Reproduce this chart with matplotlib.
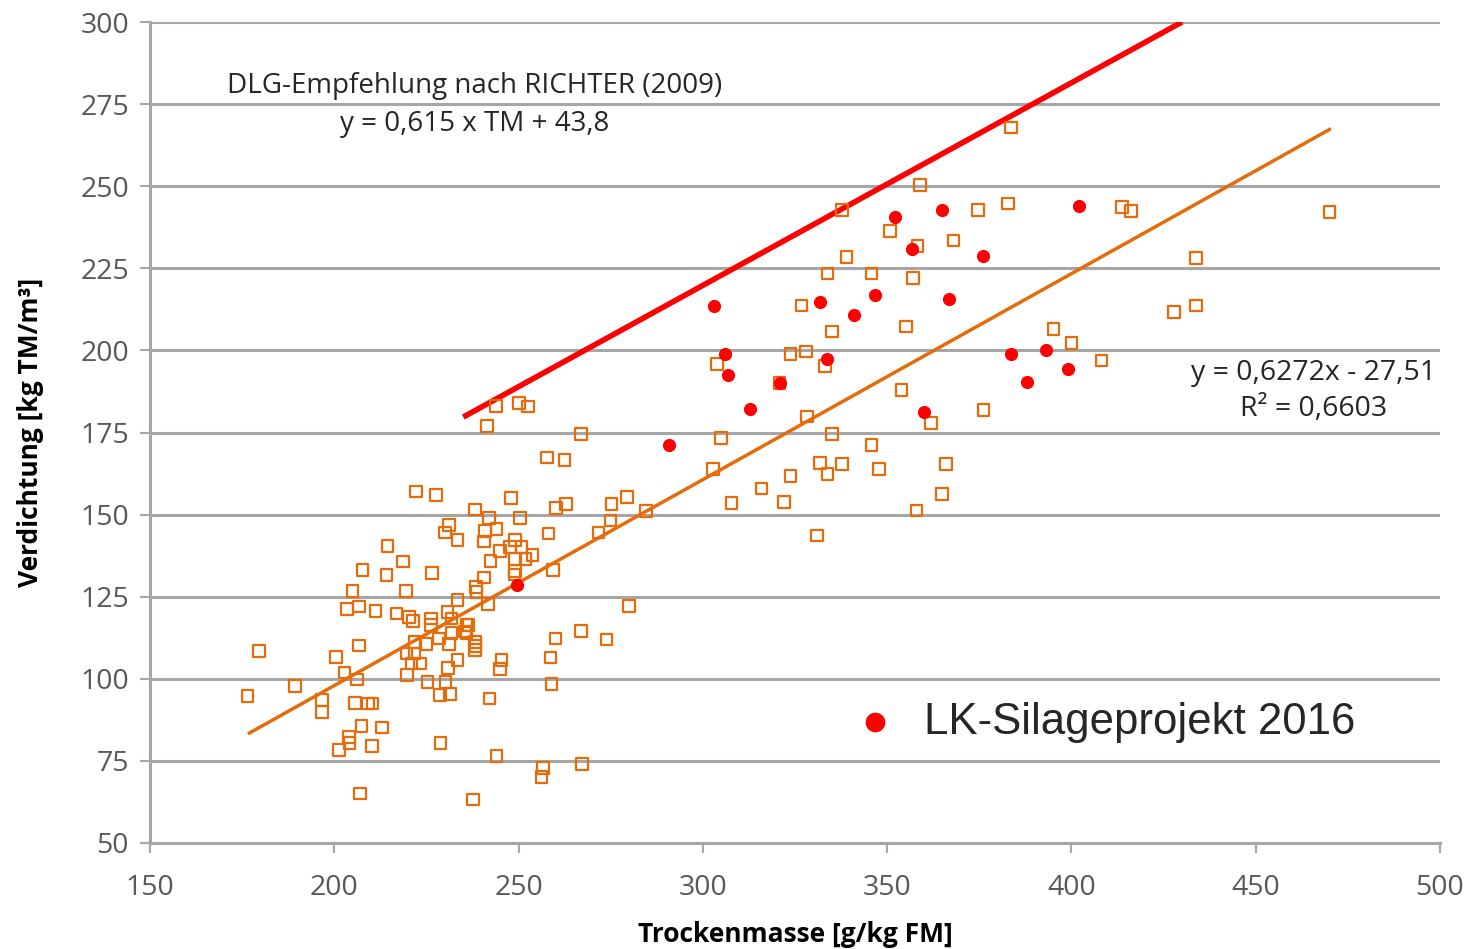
import numpy as np
import matplotlib
matplotlib.use("Agg")
import matplotlib.pyplot as plt

# ---- data: Trockenmasse [g/kg FM] / Verdichtung [kg TM/m3] ----
sq_x = [222.2, 227.6, 238.2, 231.2, 230.0, 233.4, 214.5, 218.7, 207.7, 214.2,
        226.6, 205.0, 219.5, 203.5, 206.8, 211.2, 216.9, 220.3, 221.4, 226.2,
        226.3, 230.7, 231.8, 233.4, 238.4, 238.6, 236.4, 235.5, 238.2, 238.2,
        231.8, 228.4, 225.0, 221.8, 219.6, 221.8, 221.0, 223.3, 219.8, 231.2,
        233.4, 230.9, 230.2, 225.3, 228.7, 231.4, 206.8, 200.4, 202.8, 206.1,
        179.6, 189.4, 176.5, 196.6, 196.7, 205.6, 209.2, 210.4, 207.4, 212.9,
        204.0, 204.1, 201.3, 210.3, 228.8, 207.0, 237.7,
        243.9, 250.1, 252.5, 241.5, 266.9, 257.8, 262.5, 247.9, 242.0, 250.4,
        260.1, 262.9, 275.2, 279.4, 284.5, 275.0, 271.7, 240.9, 244.0, 240.6,
        258.1, 249.0, 247.7, 250.8, 245.0, 249.0, 251.9, 253.8, 242.4, 249.0,
        248.9, 259.4, 240.6, 241.7, 279.9, 235.9, 235.9, 238.3, 245.4, 245.0,
        260.0, 266.9, 273.9, 258.7, 258.9, 242.1, 244.0, 256.7, 256.2, 267.3,
        358.9, 337.8, 374.7, 350.8, 358.2, 368.0, 339.0, 333.8, 345.8, 357.1,
        326.8, 335.0, 355.1, 323.8, 328.0, 303.9, 333.1, 320.8, 353.9, 376.1,
        361.9, 328.2, 335.0, 304.9, 345.8, 366.0, 331.8, 337.8, 333.8, 347.8,
        302.8, 323.8, 315.9, 364.9, 307.8, 322.1, 358.0, 330.9,
        382.8, 413.8, 416.1, 470.0, 433.8, 427.9, 433.8, 395.1, 400.0, 408.2,
        383.6]
sq_y = [157.0, 155.9, 151.6, 146.9, 144.5, 142.3, 140.5, 135.7, 133.1, 131.6,
        132.3, 126.7, 126.7, 121.2, 122.0, 120.6, 119.9, 118.9, 117.6, 118.4,
        116.4, 120.4, 118.4, 124.0, 128.0, 126.5, 116.4, 114.4, 111.3, 108.8,
        113.9, 112.3, 110.6, 111.3, 107.7, 107.7, 104.7, 104.7, 101.1, 110.6,
        105.7, 103.2, 99.1, 99.1, 95.0, 95.3, 110.1, 106.7, 101.9, 99.8,
        108.5, 97.9, 94.7, 93.5, 89.8, 92.7, 92.5, 92.5, 85.6, 85.2,
        82.2, 80.5, 78.3, 79.6, 80.5, 65.1, 63.3,
        183.1, 184.0, 182.9, 177.0, 174.6, 167.4, 166.7, 155.0, 148.9, 148.9,
        152.0, 153.2, 153.3, 155.3, 151.1, 148.2, 144.6, 145.0, 145.6, 141.8,
        144.3, 142.3, 140.2, 140.2, 138.9, 136.5, 136.4, 137.7, 135.9, 132.8,
        131.8, 133.1, 130.9, 122.8, 122.2, 116.4, 113.9, 109.9, 105.7, 102.9,
        112.3, 114.6, 112.0, 106.5, 98.4, 94.0, 76.4, 72.9, 70.1, 74.0,
        250.3, 242.7, 242.7, 236.3, 231.7, 233.5, 228.5, 223.4, 223.4, 222.1,
        213.7, 205.8, 207.3, 199.0, 199.7, 195.9, 195.3, 190.1, 188.0, 181.9,
        177.9, 179.9, 174.6, 173.3, 171.2, 165.4, 165.7, 165.4, 162.4, 163.9,
        163.9, 161.8, 158.0, 156.2, 153.5, 153.8, 151.2, 143.6,
        244.7, 243.7, 242.4, 242.1, 228.2, 211.7, 213.7, 206.6, 202.3, 196.9,
        267.9]

# LK-Silageprojekt 2016
lk_x = [303.0, 352.1, 364.8, 356.8, 375.9, 331.7, 346.8, 341.0, 366.8, 306.0,
        306.9, 333.8, 320.9, 312.8, 360.0, 290.8, 249.7, 402.0, 383.7, 393.0,
        399.0, 388.0]
lk_y = [213.4, 240.7, 242.7, 231.0, 228.9, 214.8, 216.8, 210.9, 215.8, 199.0,
        192.4, 197.4, 190.1, 182.2, 181.2, 171.2, 128.6, 244.1, 199.0, 200.2,
        194.3, 190.5]

# Linien
dlg_x = [235, 430]
dlg_y = [179.7, 300.0]
trend_k, trend_d = 0.6272, -27.51
trend_x = np.array([177.0, 470.0])

ORANGE = "#E46C0A"
RED = "#FF0000"
GRID = "#A6A6A6"
TICK_C = "#595959"

plt.rcParams["font.family"] = ["Open Sans", "DejaVu Sans"]

fig = plt.figure(figsize=(14.7, 9.49), dpi=100)
ax = fig.add_axes([0.102, 0.1117, 0.8776, 0.8651])

ax.set_xlim(150, 500)
ax.set_ylim(50, 300)
ax.set_xticks(np.arange(150, 501, 50))
ax.set_yticks(np.arange(50, 301, 25))
ax.yaxis.grid(True, color=GRID, linewidth=2.2)
ax.set_axisbelow(True)
for s in ["top", "right"]:
    ax.spines[s].set_visible(False)
for s in ["left", "bottom"]:
    ax.spines[s].set_color(GRID)
    ax.spines[s].set_linewidth(2.2)
ax.tick_params(axis="both", colors=GRID, width=1.5, length=7,
               labelcolor=TICK_C, labelsize=20.5)
ax.tick_params(axis="x", pad=15)
ax.tick_params(axis="y", pad=8)

ax.plot(trend_x, trend_k * trend_x + trend_d, color=ORANGE, linewidth=2.5, zorder=2)
ax.plot(dlg_x, dlg_y, color=RED, linewidth=4, zorder=2, solid_capstyle="butt")

ax.scatter(sq_x, sq_y, marker="s", s=70, facecolors="none",
           edgecolors=ORANGE, linewidths=1.6, zorder=3)
ax.scatter(lk_x, lk_y, marker="o", s=90, color=RED, linewidths=0, zorder=4)

ax.text(0.252, 0.899, "DLG-Empfehlung nach RICHTER (2009)\ny = 0,615 x TM + 43,8",
        transform=ax.transAxes, ha="center", va="center", fontsize=20,
        color="#262626", linespacing=1.45)
ax.text(0.9016, 0.5505, "y = 0,6272x - 27,51\nR² = 0,6603",
        transform=ax.transAxes, ha="center", va="center", fontsize=20.5,
        color="#262626", linespacing=1.35, multialignment="center")

# Legende
ax.scatter([0.562], [0.147], transform=ax.transAxes, marker="o", s=200,
           color=RED, linewidths=0, clip_on=False, zorder=5)
ax.text(0.6, 0.147, "LK-Silageprojekt 2016", transform=ax.transAxes,
        ha="left", va="center", fontsize=31.5, color="#262626",
        family=["Liberation Sans", "DejaVu Sans"])

ax.set_xlabel("Trockenmasse [g/kg FM]", fontsize=19, fontweight="bold",
              color="black", labelpad=14)
ax.set_ylabel("Verdichtung [kg TM/m³]", fontsize=19, fontweight="bold",
              color="black", labelpad=26)

fig.savefig("out.png", dpi=100)
